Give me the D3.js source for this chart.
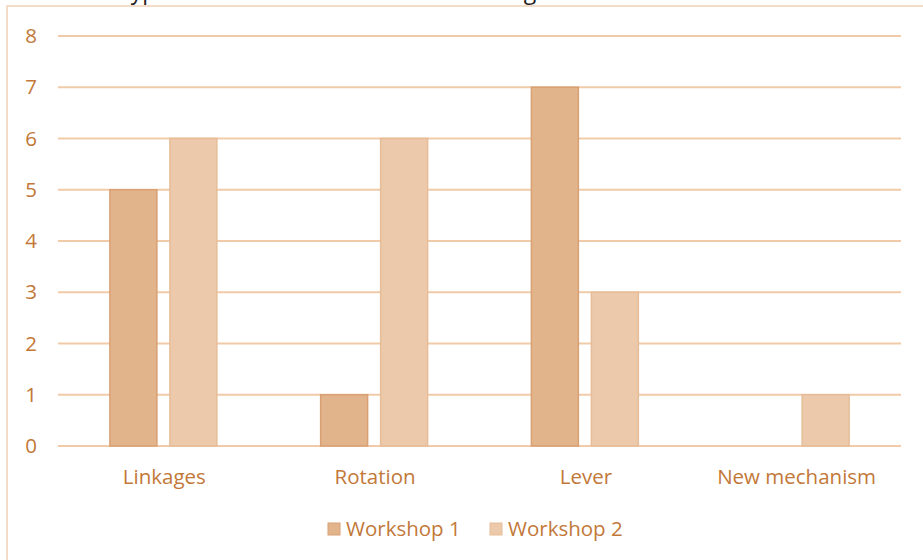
<!DOCTYPE html>
<html>
<head>
<meta charset="utf-8">
<script src="https://cdn.jsdelivr.net/npm/d3@7"></script>
<style>
  body { margin: 0; background: #fff; }
  svg { display: block; }
  text { font-family: "Open Sans", sans-serif; }
</style>
</head>
<body>
<div id="chart"></div>
<script>
// data
var categories = ["Linkages", "Rotation", "Lever", "New mechanism"];
var seriesNames = ["Workshop 1", "Workshop 2"];
var workshop1 = [5, 1, 7, 0];
var workshop2 = [6, 6, 3, 1];
var yTicks = [0, 1, 2, 3, 4, 5, 6, 7, 8];

var colors = { "Workshop 1": "#e2b48c", "Workshop 2": "#ecc9aa" };
var strokes = { "Workshop 1": "#d9a073", "Workshop 2": "#e6bd98" };
var textColor = "#c27838";

var svgWidth = 923, svgHeight = 560;

var svg = d3.select("#chart")
    .append("svg")
    .attr("width", svgWidth)
    .attr("height", svgHeight);

// title sits above the crop, only its descenders show
svg.append("text")
    .attr("x", 118)
    .attr("y", -1)
    .attr("font-size", 23)
    .attr("fill", "#222")
    .text("Types of mechanisms used in the designs");

// chart frame (cut off on the right and bottom)
svg.append("path")
    .attr("d", "M7,600 L7,6 L940,6")
    .attr("fill", "none")
    .attr("stroke", "#f3dcc8")
    .attr("stroke-width", 2);

var x0 = d3.scaleBand()
    .domain(categories)
    .range([58, 901])
    .paddingInner(0)
    .paddingOuter(0);

var x1 = d3.scaleBand()
    .domain(seriesNames)
    .range([0, x0.bandwidth()])
    .paddingInner(0.217)
    .paddingOuter(0.865);

var y = d3.scaleLinear()
    .domain([0, 8])
    .range([446, 36]);

// gridlines
svg.append("g")
    .selectAll("line")
    .data(yTicks)
    .enter()
    .append("line")
    .attr("x1", 58)
    .attr("x2", 901)
    .attr("y1", d => y(d))
    .attr("y2", d => y(d))
    .attr("stroke", "#f1cba8")
    .attr("stroke-width", 2);

// y tick labels
svg.append("g")
    .selectAll("text")
    .data(yTicks)
    .enter()
    .append("text")
    .attr("x", 31)
    .attr("y", d => y(d))
    .attr("dy", "0.35em")
    .attr("text-anchor", "middle")
    .attr("font-size", 20.5)
    .attr("fill", textColor)
    .text(d => d);

// bars
var rows = categories.map(function(c, i) {
    return { cat: c, values: [
        { name: "Workshop 1", value: workshop1[i] },
        { name: "Workshop 2", value: workshop2[i] }
    ] };
});

var groups = svg.append("g")
    .selectAll("g")
    .data(rows)
    .enter()
    .append("g")
    .attr("transform", d => `translate(${x0(d.cat)},0)`);

groups.selectAll("rect")
    .data(d => d.values.filter(v => v.value > 0))
    .enter()
    .append("rect")
    .attr("x", d => x1(d.name))
    .attr("y", d => y(d.value))
    .attr("width", x1.bandwidth())
    .attr("height", d => y(0) - y(d.value))
    .attr("fill", d => colors[d.name])
    .attr("stroke", d => strokes[d.name])
    .attr("stroke-width", 1.5);

// x category labels
svg.append("g")
    .selectAll("text")
    .data(categories)
    .enter()
    .append("text")
    .attr("x", d => x0(d) + x0.bandwidth() / 2 + 1)
    .attr("y", 477)
    .attr("dy", "0.35em")
    .attr("text-anchor", "middle")
    .attr("font-size", 20.5)
    .attr("fill", textColor)
    .text(d => d);

// legend
var legendX = [328, 490];
var legend = svg.append("g")
    .selectAll("g")
    .data(seriesNames)
    .enter()
    .append("g")
    .attr("transform", (d, i) => `translate(${legendX[i]},529)`);

legend.append("rect")
    .attr("x", 0)
    .attr("y", -6)
    .attr("width", 12)
    .attr("height", 12)
    .attr("fill", d => colors[d])
    .attr("stroke", d => strokes[d]);

legend.append("text")
    .attr("x", 18)
    .attr("y", 0)
    .attr("dy", "0.35em")
    .attr("font-size", 20.5)
    .attr("fill", textColor)
    .text(d => d);
</script>
</body>
</html>
